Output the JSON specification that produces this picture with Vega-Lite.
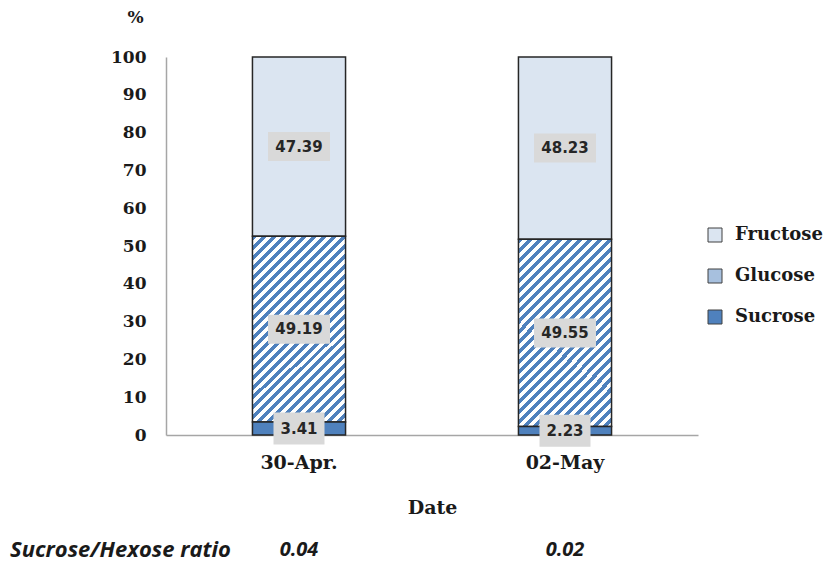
{
  "$schema": "https://vega.github.io/schema/vega-lite/v6.json",
  "width": 532,
  "height": 378,
  "autosize": {"type": "none"},
  "padding": {"left": 166, "top": 57, "right": 127, "bottom": 129},
  "background": "white",
  "datasets": {
    "sugars": [
      {"date": "30-Apr.", "sugar": "Fructose", "pct": 47.39},
      {"date": "30-Apr.", "sugar": "Glucose", "pct": 49.19},
      {"date": "30-Apr.", "sugar": "Sucrose", "pct": 3.41},
      {"date": "02-May", "sugar": "Fructose", "pct": 48.23},
      {"date": "02-May", "sugar": "Glucose", "pct": 49.55},
      {"date": "02-May", "sugar": "Sucrose", "pct": 2.23}
    ],
    "ratios": [
      {"date": "30-Apr.", "ratio": "0.04"},
      {"date": "02-May", "ratio": "0.02"}
    ]
  },
  "config": {
    "view": {"stroke": null},
    "axis": {
      "grid": false,
      "ticks": false,
      "domainColor": "#a6a6a6",
      "domainWidth": 1.5,
      "labelFont": "DejaVu Serif",
      "labelFontWeight": "bold",
      "labelColor": "#1a1a1a",
      "titleFont": "DejaVu Serif",
      "titleFontWeight": "bold",
      "titleColor": "#1a1a1a"
    },
    "axisX": {"labelAngle": 0, "labelFontSize": 19, "labelPadding": 18, "titleFontSize": 19, "titlePadding": 26},
    "axisY": {"labelFontSize": 17, "labelPadding": 20, "values": [0, 10, 20, 30, 40, 50, 60, 70, 80, 90, 100], "titleAngle": 0, "titleFontSize": 17, "titleX": -31, "titleY": -40, "titleAlign": "center", "titleBaseline": "middle"}
  },
  "encoding": {
    "x": {"field": "date", "type": "nominal", "sort": ["30-Apr.", "02-May"], "title": "Date", "scale": {"paddingInner": 0.65, "paddingOuter": 0.325}}
  },
  "layer": [
    {
      "data": {"name": "sugars"},
      "transform": [
        {"stack": "pct", "groupby": ["date"], "sort": [{"field": "sugar", "order": "descending"}], "as": ["y0", "y1"]},
        {"calculate": "(datum.y0 + datum.y1) / 2", "as": "ymid"}
      ],
      "layer": [
        {
          "mark": {"type": "bar", "stroke": "#262626", "strokeWidth": 1.5},
          "encoding": {
            "y": {"field": "y0", "type": "quantitative", "title": "%", "scale": {"domain": [0, 100], "nice": false}},
            "y2": {"field": "y1"},
            "fill": {
              "condition": {"test": "datum.sugar === 'Glucose'", "value": {"gradient": "linear", "x1": 0, "y1": 0, "x2": 0.6, "y2": 1.2, "stops": [
{"offset":0,"color":"#4f81bd"},{"offset":0.0179,"color":"#4f81bd"},
{"offset":0.0179,"color":"#ffffff"},{"offset":0.0357,"color":"#ffffff"},
{"offset":0.0357,"color":"#4f81bd"},{"offset":0.0536,"color":"#4f81bd"},
{"offset":0.0536,"color":"#ffffff"},{"offset":0.0714,"color":"#ffffff"},
{"offset":0.0714,"color":"#4f81bd"},{"offset":0.0893,"color":"#4f81bd"},
{"offset":0.0893,"color":"#ffffff"},{"offset":0.1071,"color":"#ffffff"},
{"offset":0.1071,"color":"#4f81bd"},{"offset":0.125,"color":"#4f81bd"},
{"offset":0.125,"color":"#ffffff"},{"offset":0.1429,"color":"#ffffff"},
{"offset":0.1429,"color":"#4f81bd"},{"offset":0.1607,"color":"#4f81bd"},
{"offset":0.1607,"color":"#ffffff"},{"offset":0.1786,"color":"#ffffff"},
{"offset":0.1786,"color":"#4f81bd"},{"offset":0.1964,"color":"#4f81bd"},
{"offset":0.1964,"color":"#ffffff"},{"offset":0.2143,"color":"#ffffff"},
{"offset":0.2143,"color":"#4f81bd"},{"offset":0.2321,"color":"#4f81bd"},
{"offset":0.2321,"color":"#ffffff"},{"offset":0.25,"color":"#ffffff"},
{"offset":0.25,"color":"#4f81bd"},{"offset":0.2679,"color":"#4f81bd"},
{"offset":0.2679,"color":"#ffffff"},{"offset":0.2857,"color":"#ffffff"},
{"offset":0.2857,"color":"#4f81bd"},{"offset":0.3036,"color":"#4f81bd"},
{"offset":0.3036,"color":"#ffffff"},{"offset":0.3214,"color":"#ffffff"},
{"offset":0.3214,"color":"#4f81bd"},{"offset":0.3393,"color":"#4f81bd"},
{"offset":0.3393,"color":"#ffffff"},{"offset":0.3571,"color":"#ffffff"},
{"offset":0.3571,"color":"#4f81bd"},{"offset":0.375,"color":"#4f81bd"},
{"offset":0.375,"color":"#ffffff"},{"offset":0.3929,"color":"#ffffff"},
{"offset":0.3929,"color":"#4f81bd"},{"offset":0.4107,"color":"#4f81bd"},
{"offset":0.4107,"color":"#ffffff"},{"offset":0.4286,"color":"#ffffff"},
{"offset":0.4286,"color":"#4f81bd"},{"offset":0.4464,"color":"#4f81bd"},
{"offset":0.4464,"color":"#ffffff"},{"offset":0.4643,"color":"#ffffff"},
{"offset":0.4643,"color":"#4f81bd"},{"offset":0.4821,"color":"#4f81bd"},
{"offset":0.4821,"color":"#ffffff"},{"offset":0.5,"color":"#ffffff"},
{"offset":0.5,"color":"#4f81bd"},{"offset":0.5179,"color":"#4f81bd"},
{"offset":0.5179,"color":"#ffffff"},{"offset":0.5357,"color":"#ffffff"},
{"offset":0.5357,"color":"#4f81bd"},{"offset":0.5536,"color":"#4f81bd"},
{"offset":0.5536,"color":"#ffffff"},{"offset":0.5714,"color":"#ffffff"},
{"offset":0.5714,"color":"#4f81bd"},{"offset":0.5893,"color":"#4f81bd"},
{"offset":0.5893,"color":"#ffffff"},{"offset":0.6071,"color":"#ffffff"},
{"offset":0.6071,"color":"#4f81bd"},{"offset":0.625,"color":"#4f81bd"},
{"offset":0.625,"color":"#ffffff"},{"offset":0.6429,"color":"#ffffff"},
{"offset":0.6429,"color":"#4f81bd"},{"offset":0.6607,"color":"#4f81bd"},
{"offset":0.6607,"color":"#ffffff"},{"offset":0.6786,"color":"#ffffff"},
{"offset":0.6786,"color":"#4f81bd"},{"offset":0.6964,"color":"#4f81bd"},
{"offset":0.6964,"color":"#ffffff"},{"offset":0.7143,"color":"#ffffff"},
{"offset":0.7143,"color":"#4f81bd"},{"offset":0.7321,"color":"#4f81bd"},
{"offset":0.7321,"color":"#ffffff"},{"offset":0.75,"color":"#ffffff"},
{"offset":0.75,"color":"#4f81bd"},{"offset":0.7679,"color":"#4f81bd"},
{"offset":0.7679,"color":"#ffffff"},{"offset":0.7857,"color":"#ffffff"},
{"offset":0.7857,"color":"#4f81bd"},{"offset":0.8036,"color":"#4f81bd"},
{"offset":0.8036,"color":"#ffffff"},{"offset":0.8214,"color":"#ffffff"},
{"offset":0.8214,"color":"#4f81bd"},{"offset":0.8393,"color":"#4f81bd"},
{"offset":0.8393,"color":"#ffffff"},{"offset":0.8571,"color":"#ffffff"},
{"offset":0.8571,"color":"#4f81bd"},{"offset":0.875,"color":"#4f81bd"},
{"offset":0.875,"color":"#ffffff"},{"offset":0.8929,"color":"#ffffff"},
{"offset":0.8929,"color":"#4f81bd"},{"offset":0.9107,"color":"#4f81bd"},
{"offset":0.9107,"color":"#ffffff"},{"offset":0.9286,"color":"#ffffff"},
{"offset":0.9286,"color":"#4f81bd"},{"offset":0.9464,"color":"#4f81bd"},
{"offset":0.9464,"color":"#ffffff"},{"offset":0.9643,"color":"#ffffff"},
{"offset":0.9643,"color":"#4f81bd"},{"offset":0.9821,"color":"#4f81bd"},
{"offset":0.9821,"color":"#ffffff"},{"offset":1,"color":"#ffffff"}
              ]}},
              "field": "sugar",
              "type": "nominal",
              "sort": ["Fructose", "Glucose", "Sucrose"],
              "scale": {
                "domain": ["Fructose", "Glucose", "Sucrose"],
                "range": ["#dbe5f1", "#a7c0de", "#4f81bd"]
              },
              "legend": {
                "title": null,
                "orient": "none",
                "legendX": 540,
                "legendY": 169,
                "symbolType": "square",
                "symbolSize": 196,
                "symbolStrokeColor": "#404040",
                "symbolStrokeWidth": 1,
                "labelFont": "DejaVu Serif",
                "labelFontWeight": "bold",
                "labelFontSize": 18,
                "labelColor": "#1a1a1a",
                "labelOffset": 11,
                "rowPadding": 23
              }
            }
          }
        },
        {
          "mark": {"type": "point", "filled": true, "opacity": 1, "fill": "#d9d9d9", "strokeWidth": 0},
          "encoding": {
            "y": {"field": "ymid", "type": "quantitative", "title": "%", "scale": {"domain": [0, 100], "nice": false}},
            "shape": {"condition": {"test": "datum.sugar === 'Sucrose'", "value": "M-1,-0.627H1V0.627H-1Z"}, "value": "M-1,-0.468H1V0.468H-1Z"},
            "size": {"condition": {"test": "datum.sugar === 'Sucrose'", "value": 2601}, "value": 3844}
          }
        },
        {
          "mark": {"type": "text", "font": "DejaVu Sans", "fontWeight": "bold", "fontSize": 15, "color": "#262626"},
          "encoding": {
            "y": {"field": "ymid", "type": "quantitative", "title": "%", "scale": {"domain": [0, 100], "nice": false}},
            "text": {"field": "pct", "type": "quantitative", "format": ".2f"}
          }
        }
      ]
    },
    {
      "data": {"name": "ratios"},
      "mark": {"type": "text", "font": "Open Sans", "fontStyle": "italic", "fontWeight": "bold", "fontSize": 20, "color": "#1a1a1a"},
      "encoding": {
        "y": {"datum": -30.5, "type": "quantitative", "title": "%", "scale": {"domain": [0, 100], "nice": false}},
        "text": {"field": "ratio", "type": "nominal"}
      }
    }
  ],
  "title": {
    "text": "Sucrose/Hexose ratio",
    "orient": "bottom",
    "anchor": "start",
    "frame": "group",
    "dx": -156,
    "offset": -20,
    "font": "Open Sans",
    "fontStyle": "italic",
    "fontWeight": "bold",
    "fontSize": 22,
    "color": "#1a1a1a"
  }
}
